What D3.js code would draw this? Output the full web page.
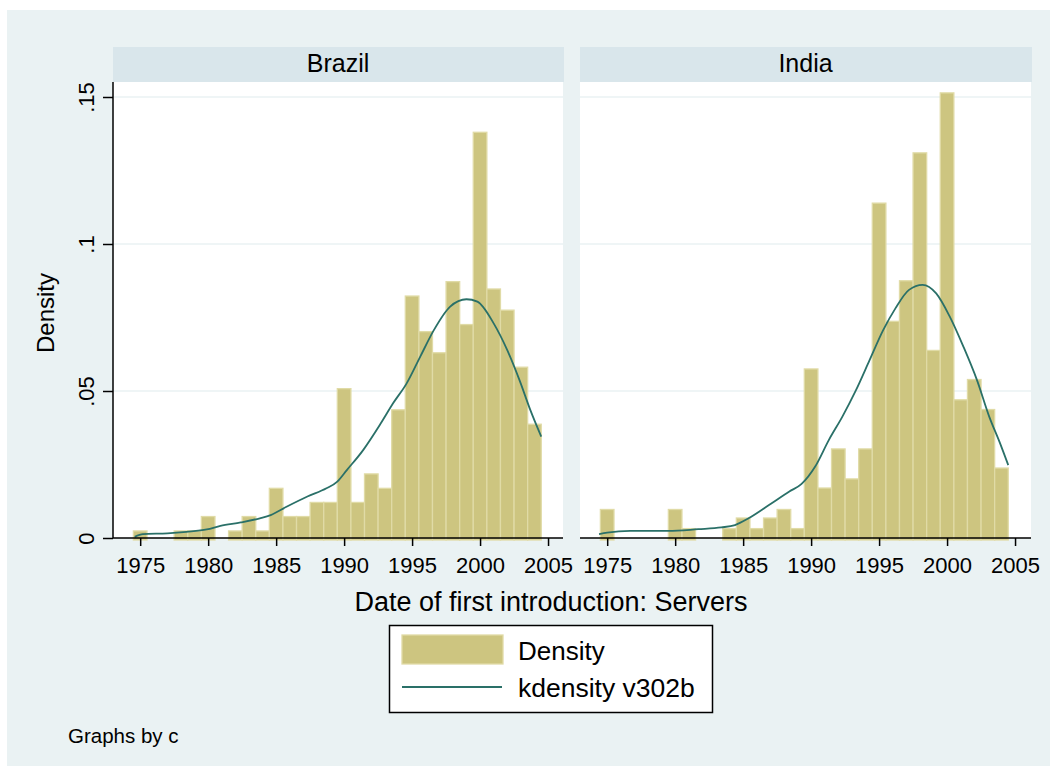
<!DOCTYPE html>
<html>
<head>
<meta charset="utf-8">
<script src="https://cdn.jsdelivr.net/npm/d3@7"></script>
<style>
  body { margin: 0; background: #ffffff; }
  svg text { font-family: 'Liberation Sans', Arial, sans-serif; fill: #000; }
</style>
</head>
<body>
<svg id="chart" width="1055" height="774"></svg>
<script>
// histogram bins (centred on each year)
const years = [1975, 1976, 1977, 1978, 1979, 1980, 1981, 1982, 1983, 1984,
  1985, 1986, 1987, 1988, 1989, 1990, 1991, 1992, 1993, 1994,
  1995, 1996, 1997, 1998, 1999, 2000, 2001, 2002, 2003, 2004];

const brazilDensity = [0.0024, 0, 0, 0.0024, 0.0024, 0.0073, 0, 0.0024, 0.0073, 0.0024,
  0.0169, 0.0073, 0.0073, 0.0121, 0.0121, 0.0508, 0.0121, 0.0218, 0.0169, 0.0436,
  0.0823, 0.0702, 0.0630, 0.0872, 0.0726, 0.1380, 0.0847, 0.0775, 0.0581, 0.0387];

const indiaDensity = [0.0097, 0, 0, 0, 0, 0.0097, 0.0032, 0, 0, 0.0032,
  0.0068, 0.0032, 0.0068, 0.0097, 0.0032, 0.0575, 0.0170, 0.0303, 0.0201, 0.0303,
  0.1139, 0.0737, 0.0875, 0.1310, 0.0638, 0.1514, 0.0470, 0.0539, 0.0437, 0.0238];

// kernel density curves
const brazilKdeX = [1974.6, 1975.2, 1977.0, 1978.4, 1979.9, 1980.9, 1982.4, 1983.8, 1984.6, 1985.8,
  1987.3, 1988.7, 1989.5, 1990.2, 1991.4, 1992.7, 1993.6, 1994.6, 1995.6, 1996.6,
  1997.8, 1999.0, 1999.8, 2001.0, 2002.0, 2002.9, 2003.7, 2004.5];
const brazilKdeY = [0.0004, 0.0013, 0.0016, 0.0021, 0.0029, 0.0041, 0.0053, 0.0067, 0.0078, 0.0107,
  0.0141, 0.0169, 0.0192, 0.0231, 0.0299, 0.0390, 0.0458, 0.0526, 0.0617, 0.0707,
  0.0787, 0.0812, 0.0804, 0.0730, 0.0639, 0.0537, 0.0435, 0.0345];

const indiaKdeX = [1974.4, 1975.0, 1976.7, 1979.5, 1981.7, 1983.4, 1984.4, 1985.4, 1986.9, 1988.4,
  1989.3, 1990.3, 1991.3, 1992.3, 1993.3, 1994.3, 1995.3, 1996.2, 1997.2, 1998.2,
  1999.2, 2000.2, 2001.2, 2002.2, 2003.1, 2003.9, 2004.5];
const indiaKdeY = [0.0013, 0.0018, 0.0024, 0.0024, 0.0030, 0.0036, 0.0044, 0.0067, 0.0112, 0.0158,
  0.0184, 0.0243, 0.0333, 0.0413, 0.0503, 0.0605, 0.0707, 0.0781, 0.0844, 0.0861,
  0.0832, 0.0753, 0.0651, 0.0537, 0.0413, 0.0322, 0.0248];

const xTicks = [1975, 1980, 1985, 1990, 1995, 2000, 2005];
const yTicks = [0, 0.05, 0.1, 0.15];
const yTickLabels = ['0', '.05', '.1', '.15'];

const panels = [
  { name: 'Brazil', density: brazilDensity, kdeX: brazilKdeX, kdeY: brazilKdeY, left: 113, right: 563 },
  { name: 'India', density: indiaDensity, kdeX: indiaKdeX, kdeY: indiaKdeY, left: 580, right: 1031 },
];

const barFill = '#cdc580';
const barEdge = '#e0dba6';
const lineColor = '#2a7068';
const bgColor = '#eaf2f3';
const stripColor = '#d9e6eb';
const fontFamily = "'Liberation Sans', Arial, sans-serif";

const svg = d3.select('#chart');

svg.append('rect')
  .attr('x', 7).attr('y', 10)
  .attr('width', 1043).attr('height', 756)
  .attr('fill', bgColor);

const plotTop = 82;
const stripTop = 47;
const y = d3.scaleLinear().domain([0, 0.15]).range([538, 97]);

panels.forEach((p, idx) => {
  const x = d3.scaleLinear().domain([1973.0, 2006.1]).range([p.left, p.left + 450]);
  const g = svg.append('g');

  // header strip
  g.append('rect')
    .attr('x', p.left).attr('y', stripTop)
    .attr('width', p.right - p.left + 1).attr('height', plotTop - stripTop)
    .attr('fill', stripColor);
  g.append('text')
    .attr('x', (p.left + p.right) / 2).attr('y', 72)
    .attr('text-anchor', 'middle')
    .style('font-size', '25px')
    .text(p.name);

  // plot area
  g.append('rect')
    .attr('x', p.left).attr('y', plotTop)
    .attr('width', p.right - p.left).attr('height', y(0) - plotTop)
    .attr('fill', '#ffffff');

  // gridlines
  g.selectAll('.grid')
    .data(yTicks.slice(1))
    .enter()
    .append('line')
    .attr('x1', p.left).attr('x2', p.right)
    .attr('y1', (d) => y(d)).attr('y2', (d) => y(d))
    .attr('stroke', bgColor)
    .attr('stroke-width', 1.5);

  // histogram bars
  g.selectAll('.bar')
    .data(years.map((yr, i) => ({ yr: yr, v: p.density[i] })).filter((d) => d.v > 0))
    .enter()
    .append('rect')
    .attr('x', (d) => x(d.yr - 0.5))
    .attr('y', (d) => y(d.v))
    .attr('width', (d) => x(d.yr + 0.5) - x(d.yr - 0.5))
    .attr('height', (d) => y(0) - y(d.v) + 2)
    .attr('fill', barFill)
    .attr('stroke', barEdge)
    .attr('stroke-width', 1.3);

  // kernel density line
  const line = d3.line()
    .x((d) => x(d[0]))
    .y((d) => y(d[1]))
    .curve(d3.curveMonotoneX);
  g.append('path')
    .datum(p.kdeX.map((v, i) => [v, p.kdeY[i]]))
    .attr('d', line)
    .attr('fill', 'none')
    .attr('stroke', lineColor)
    .attr('stroke-width', 1.8);

  // x axis
  const xAxis = g.append('g')
    .attr('transform', 'translate(0,' + y(0) + ')')
    .call(d3.axisBottom(x).tickValues(xTicks).tickFormat(d3.format('d')).tickSize(8).tickSizeOuter(0));
  xAxis.select('.domain').attr('d', 'M' + p.left + ',0H' + p.right).attr('stroke', '#000').attr('stroke-width', 1.5);
  xAxis.selectAll('.tick line').attr('stroke', '#000').attr('stroke-width', 1.5);
  xAxis.selectAll('.tick text')
    .attr('y', 35)
    .attr('dy', 0)
    .style('font-size', '22px')
    .style('font-family', fontFamily)
    .attr('fill', '#000');

  // y axis only on first panel
  if (idx === 0) {
    const yAxis = g.append('g')
      .attr('transform', 'translate(' + p.left + ',0)')
      .call(d3.axisLeft(y).tickValues(yTicks).tickFormat((d, i) => yTickLabels[i]).tickSize(10).tickSizeOuter(0));
    yAxis.select('.domain').attr('d', 'M0,' + plotTop + 'V' + y(0)).attr('stroke', '#000').attr('stroke-width', 1.5);
    yAxis.selectAll('.tick line').attr('stroke', '#000').attr('stroke-width', 1.5);
    yAxis.selectAll('.tick text')
      .attr('x', 0).attr('dy', 0)
      .attr('transform', 'translate(-19,0) rotate(-90)')
      .attr('text-anchor', 'middle')
      .style('font-size', '22px')
      .style('font-family', fontFamily)
      .attr('fill', '#000');
  }
});

// axis titles
svg.append('text')
  .attr('transform', 'translate(54,313) rotate(-90)')
  .attr('text-anchor', 'middle')
  .style('font-size', '24px')
  .text('Density');

svg.append('text')
  .attr('x', 551).attr('y', 611)
  .attr('text-anchor', 'middle')
  .style('font-size', '27px')
  .text('Date of first introduction: Servers');

// legend
const legend = svg.append('g');
legend.append('rect')
  .attr('x', 389.5).attr('y', 625.5)
  .attr('width', 323).attr('height', 87)
  .attr('fill', '#ffffff')
  .attr('stroke', '#000')
  .attr('stroke-width', 1.5);
legend.append('rect')
  .attr('x', 402).attr('y', 635)
  .attr('width', 101).attr('height', 29)
  .attr('fill', barFill)
  .attr('stroke', barEdge)
  .attr('stroke-width', 1.3);
legend.append('line')
  .attr('x1', 402).attr('x2', 502)
  .attr('y1', 687).attr('y2', 687)
  .attr('stroke', lineColor)
  .attr('stroke-width', 1.8);
legend.append('text')
  .attr('x', 518).attr('y', 660)
  .style('font-size', '26px')
  .text('Density');
legend.append('text')
  .attr('x', 518).attr('y', 697)
  .style('font-size', '26.5px')
  .text('kdensity v302b');

svg.append('text')
  .attr('x', 68).attr('y', 743)
  .style('font-size', '20.5px')
  .text('Graphs by c');
</script>
</body>
</html>
